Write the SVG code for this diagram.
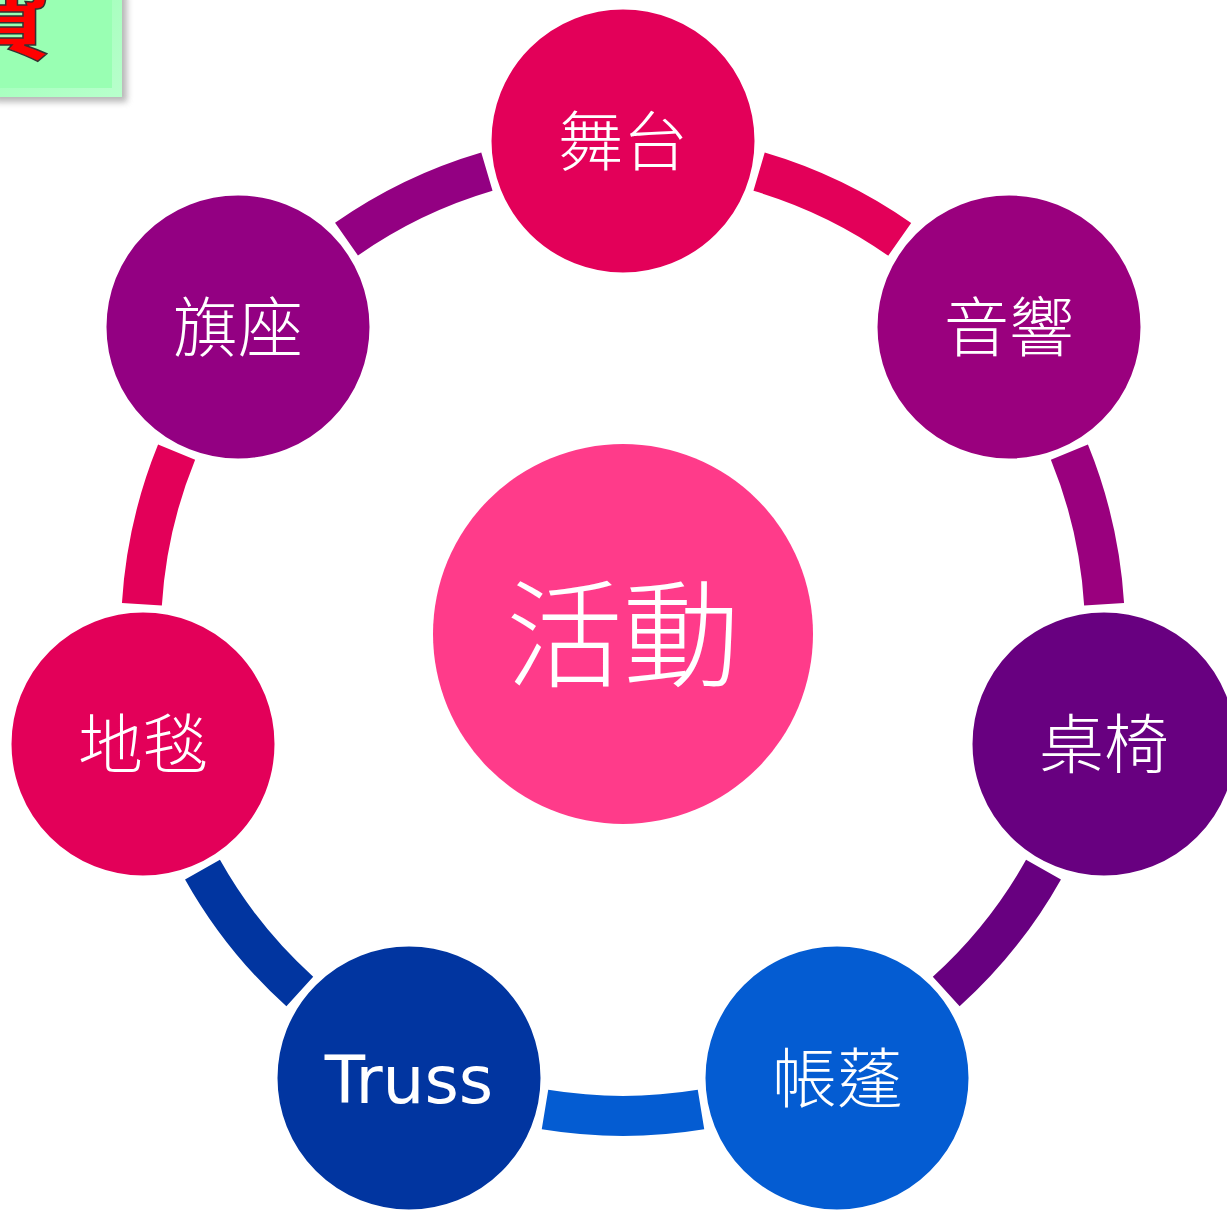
<svg xmlns="http://www.w3.org/2000/svg" width="1227" height="1210" viewBox="0 0 1227 1210">
<defs>
<filter id="sh" x="-20%" y="-20%" width="150%" height="150%"><feGaussianBlur stdDeviation="3"/></filter>
<linearGradient id="bev" x1="0" y1="0" x2="1" y2="1"><stop offset="0" stop-color="#99ffb3"/><stop offset="1" stop-color="#b8ffcc"/></linearGradient>
</defs>
<style>
.arc{fill:none;stroke-width:40;stroke-linecap:butt}
.node{stroke:#fff;stroke-width:5}
.lbl{fill:#fff;font-family:"Noto Sans CJK TC","Noto Sans CJK SC",sans-serif;font-weight:300;font-size:65px;text-anchor:middle}
</style>
<g id="title">
<rect x="-6" y="-6" width="133" height="108" fill="#888" opacity="0.6" filter="url(#sh)"/>
<rect x="-10" y="-10" width="132" height="107" fill="url(#bev)"/>
<rect x="-10" y="-10" width="122" height="98" fill="#99ffb3"/>
<text x="-52" y="52" font-family="'Noto Sans CJK TC',sans-serif" font-weight="bold" font-size="104" fill="#ff0000" stroke="#333" stroke-width="1.5">費</text>
</g>
<g id="connectors">
<path class="arc" stroke="#e30059" d="M759.1 171.6 A482 482 0 0 1 899.7 239.3"/>
<path class="arc" stroke="#9a007e" d="M1069.4 452.1 A482 482 0 0 1 1104.1 604.3"/>
<path class="arc" stroke="#680080" d="M1043.5 869.6 A482 482 0 0 1 946.2 991.5"/>
<path class="arc" stroke="#045cd2" d="M701 1109.6 A482 482 0 0 1 545 1109.6"/>
<path class="arc" stroke="#0135a0" d="M299.8 991.5 A482 482 0 0 1 202.5 869.6"/>
<path class="arc" stroke="#e30059" d="M141.9 604.3 A482 482 0 0 1 176.6 452.1"/>
<path class="arc" stroke="#930082" d="M346.5 239.1 A482 482 0 0 1 486.9 171.6"/>
</g>
<g id="center"><circle cx="623" cy="634" r="190" fill="#ff3b8a"/><text class="lbl" x="623" y="678" style="font-size:117px">活動</text></g>
<g id="n-stage"><circle class="node" cx="623" cy="141" r="134" fill="#e30059"/><text class="lbl" x="623" y="165">舞台</text></g>
<g id="n-audio"><circle class="node" cx="1009" cy="327" r="134" fill="#9a007e"/><text class="lbl" x="1009" y="351">音響</text></g>
<g id="n-tables"><circle class="node" cx="1104" cy="744" r="134" fill="#680080"/><text class="lbl" x="1104" y="768">桌椅</text></g>
<g id="n-tent"><circle class="node" cx="837" cy="1078" r="134" fill="#045cd2"/><text class="lbl" x="837" y="1102">帳蓬</text></g>
<g id="n-truss"><circle class="node" cx="409" cy="1078" r="134" fill="#0135a0"/><text class="lbl" x="409" y="1103" style="font-family:'DejaVu Sans',sans-serif;font-weight:normal;font-size:66px">Truss</text></g>
<g id="n-carpet"><circle class="node" cx="143" cy="744" r="134" fill="#e30059"/><text class="lbl" x="143" y="768">地毯</text></g>
<g id="n-flag"><circle class="node" cx="238" cy="327" r="134" fill="#930082"/><text class="lbl" x="238" y="351">旗座</text></g>
</svg>
